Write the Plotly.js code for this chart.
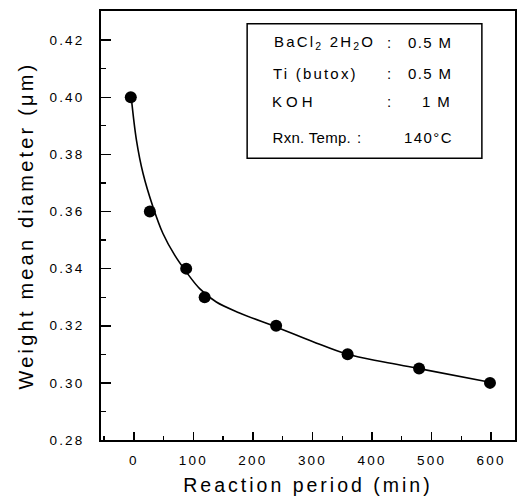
<!DOCTYPE html>
<html>
<head>
<meta charset="utf-8">
<script src="https://cdn.plot.ly/plotly-3.0.1.min.js"></script>
<style>
  html, body { margin: 0; padding: 0; background: #fff; }
  #chart { width: 518px; height: 501px; }
  .xtick text, .ytick text { letter-spacing: 2.2px; }
  .g-xtitle text { letter-spacing: 3px; }
  .g-ytitle text { letter-spacing: 3.2px; }
  .annotation-text { letter-spacing: 1.4px; }
  .annotation[data-index="0"] .annotation-text,
  .annotation[data-index="3"] .annotation-text { letter-spacing: 2.2px; }
  .annotation[data-index="6"] .annotation-text { letter-spacing: 4px; }
  .annotation[data-index="9"] .annotation-text { letter-spacing: 0.3px; }
</style>
</head>
<body>
<div id="chart"></div>
<script>
const reactionTimes = [-5, 27, 88, 119, 239, 359, 479, 598];                      // min
const meanDiameters = [0.400, 0.360, 0.340, 0.330, 0.320, 0.310, 0.305, 0.300];   // µm

// Fitted curve, points
const curveTimes = [-4, 4.5, 15.6, 32.3, 49, 68.7, 88.3, 110.6, 138.6, 177.6, 239, 300, 359, 420, 479, 598];
const curveDiameters = [0.3996, 0.3850, 0.3733, 0.3616, 0.3523, 0.3447, 0.3388, 0.3330, 0.3283, 0.3245,
                        0.3196, 0.3145, 0.3100, 0.3073, 0.3050, 0.3002];

// Condition box content
const boxLabels = ["BaCl<sub>2</sub> 2H<sub>2</sub>O", "Ti (butox)", "KOH", "Rxn. Temp."];
const boxValues = ["0.5 M", "0.5 M", "1 M", "140°C"];

const FONT = "Liberation Sans, Arial, sans-serif";

const traces = [
  {
    x: curveTimes, y: curveDiameters, type: "scatter", mode: "lines",
    line: { color: "#000", width: 1.6, shape: "spline", smoothing: 1.0 },
    hoverinfo: "skip", showlegend: false
  },
  {
    x: reactionTimes, y: meanDiameters, type: "scatter", mode: "markers",
    marker: { color: "#000", size: 12, line: { width: 0 } },
    showlegend: false
  }
];

// text placement inside the box (paper fractions, centre-anchored)
const rowY = [0.927, 0.855, 0.790, 0.706];
const labelX = [0.5405, 0.5181, 0.4662, 0.5097];
const colonX = [0.6981, 0.6981, 0.6981, 0.6256];
const valueX = [0.7959, 0.7959, 0.8092, 0.7899];
const annotations = [];
boxLabels.forEach((t, i) => {
  annotations.push({ xref: "paper", yref: "paper", x: labelX[i], y: rowY[i], xanchor: "center", yanchor: "middle",
    text: t, showarrow: false, font: { family: FONT, size: 15, color: "#000" } });
  annotations.push({ xref: "paper", yref: "paper", x: colonX[i], y: rowY[i], xanchor: "center", yanchor: "middle",
    text: ":", showarrow: false, font: { family: FONT, size: 15, color: "#000" } });
  annotations.push({ xref: "paper", yref: "paper", x: valueX[i], y: rowY[i], xanchor: "center", yanchor: "middle",
    text: boxValues[i], showarrow: false, font: { family: FONT, size: 15, color: "#000" } });
});

const layout = {
  width: 518, height: 501,
  margin: { l: 101, r: 3, t: 11, b: 61 },
  paper_bgcolor: "#fff", plot_bgcolor: "#fff",
  font: { family: FONT, color: "#000" },
  xaxis: {
    range: [-55, 640], tickmode: "linear", tick0: 0, dtick: 100,
    ticks: "inside", ticklen: 8, tickwidth: 1.5, tickcolor: "#000",
    minor: { dtick: 50, ticks: "inside", ticklen: 4, tickwidth: 1.3, tickcolor: "#000" },
    showline: true, linecolor: "#000", linewidth: 1.8, mirror: true,
    showgrid: false, zeroline: false,
    tickfont: { family: FONT, size: 13.5, color: "#000" },
    ticklabelstandoff: 7,
    title: { text: "Reaction period (min)", font: { family: FONT, size: 19.5, color: "#000" }, standoff: 11 }
  },
  yaxis: {
    range: [0.28, 0.4302], tickmode: "linear", tick0: 0.28, dtick: 0.02, tickformat: ".2f",
    ticks: "inside", ticklen: 10, tickwidth: 1.5, tickcolor: "#000",
    minor: { dtick: 0.01, ticks: "inside", ticklen: 5, tickwidth: 1.3, tickcolor: "#000" },
    showline: true, linecolor: "#000", linewidth: 1.8, mirror: true,
    showgrid: false, zeroline: false,
    tickfont: { family: FONT, size: 13.5, color: "#000" },
    ticklabelstandoff: 12,
    title: { text: "Weight mean diameter (μm)", font: { family: FONT, size: 20, color: "#000" }, standoff: 10 }
  },
  shapes: [{
    type: "rect", xref: "paper", yref: "paper", x0: 0.353, x1: 0.920, y0: 0.657, y1: 0.970,
    line: { color: "#000", width: 1.5 }, fillcolor: "rgba(0,0,0,0)"
  }],
  annotations: annotations,
  showlegend: false
};

Plotly.newPlot("chart", traces, layout, { displayModeBar: false, staticPlot: true });
</script>
</body>
</html>
